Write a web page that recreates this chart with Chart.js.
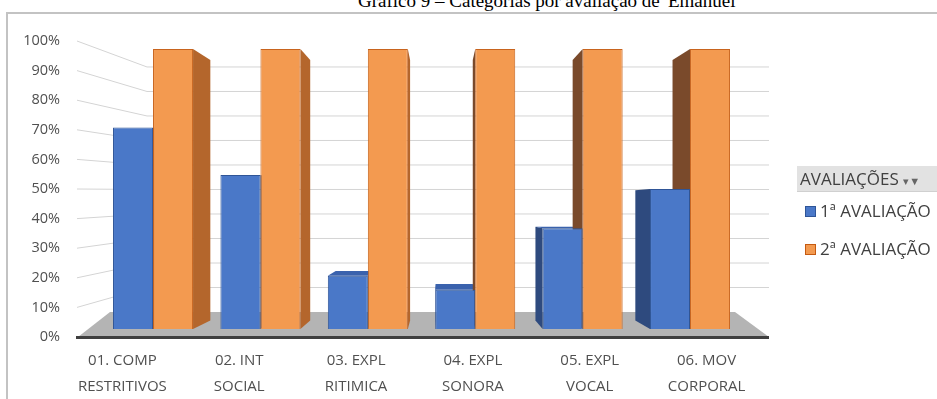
<!DOCTYPE html>
<html lang="pt">
<head>
<meta charset="utf-8">
<title>Gráfico 9 – Categorias por avaliação de 'Emanuel'</title>
<script src="https://cdn.jsdelivr.net/npm/chart.js@4.4.1/dist/chart.umd.min.js"></script>
<style>
  html, body { margin: 0; padding: 0; background: #fff; }
  body { width: 937px; height: 399px; position: relative; overflow: hidden; }
  #titulo {
    position: absolute; left: 358px; top: -10px; white-space: nowrap;
    font: 19px/22px "Liberation Serif", "Times New Roman", serif; color: #000;
  }
  #moldura {
    position: absolute; left: 6px; top: 12px; right: -2px; bottom: -2px;
    border-top: 2px solid #c3c3c3; border-left: 2px solid #c3c3c3;
  }
  #grafico { position: absolute; left: 0; top: 0; }
  #legenda {
    position: absolute; left: 797px; top: 166px; width: 140px;
    font: 17px "Open Sans", sans-serif; color: #404040;
  }
  #legenda .cab {
    background: #e2e2e2; height: 25px; line-height: 25px; padding-left: 3px;
    border-bottom: 1px solid #d0d0d0; white-space: nowrap;
  }
  #legenda .cab span { font-size: 11px; color: #666; }
  #legenda .item { height: 38px; line-height: 38px; padding-left: 8px; white-space: nowrap; }
  #legenda .cx {
    display: inline-block; width: 9px; height: 9px; margin-right: 4px; vertical-align: 0px;
  }
</style>
</head>
<body>
<div id="titulo">Gráfico 9 – Categorias por avaliação de 'Emanuel'</div>
<div id="moldura"></div>
<canvas id="grafico" width="937" height="399"></canvas>
<div id="legenda">
  <div class="cab">AVALIAÇÕES <span>▾▼</span></div>
  <div class="item"><span class="cx" style="background:#4a78c8;border:1px solid #2f5597"></span>1ª AVALIAÇÃO</div>
  <div class="item"><span class="cx" style="background:#f39a50;border:1px solid #c55a11"></span>2ª AVALIAÇÃO</div>
</div>
<script>
// ==========================
// Data
// ==========================

const categories = [
  ["01. COMP", "RESTRITIVOS"],
  ["02. INT", "SOCIAL"],
  ["03. EXPL", "RITIMICA"],
  ["04. EXPL", "SONORA"],
  ["05. EXPL", "VOCAL"],
  ["06. MOV", "CORPORAL"],
];

const seriesNames = ["1ª AVALIAÇÃO", "2ª AVALIAÇÃO"];
const avaliacao1 = [72, 55, 19, 14, 36, 50];
const avaliacao2 = [100, 100, 100, 100, 100, 100];

const yTicks = [0, 10, 20, 30, 40, 50, 60, 70, 80, 90, 100];

// ==========================
// Colours
// ==========================

const azul = { front: "#4a78c8", border: "#2f5597", side: "#2e4a7e", top: "#3a62ad" };
const laranja = { front: "#f39a50", border: "#c8641e", side: "#b4662c", sideLeft: "#7a4a2b", top: "#d9782f" };

const fonte = '"Open Sans", sans-serif';

// ==========================
// Perspective helpers
// ==========================

const VP = { x: 440, y: 206 };
const DEPTH = 0.07;

function toBack(px, py) {
  return { x: px + (VP.x - px) * DEPTH, y: py + (VP.y - py) * DEPTH };
}

function poly(ctx, pts, fill) {
  ctx.beginPath();
  ctx.moveTo(pts[0].x, pts[0].y);
  pts.slice(1).forEach((p) => ctx.lineTo(p.x, p.y));
  ctx.closePath();
  ctx.fillStyle = fill;
  ctx.fill();
}

// grid, floor and bar sides, drawn under the bar fronts
const cena3d = {
  id: "cena3d",
  beforeDatasetsDraw(chart) {
    const ctx = chart.ctx;
    const area = chart.chartArea;
    const yl = chart.scales.yl;
    const yg = chart.scales.yg;
    const wallX = area.left + 83;

    ctx.save();

    // gridlines on the back wall + connectors to the labels
    ctx.strokeStyle = "#d4d4d4";
    ctx.lineWidth = 1;
    yTicks.slice(1).forEach((v) => {
      ctx.beginPath();
      ctx.moveTo(area.left + 13, yl.getPixelForValue(v));
      ctx.lineTo(wallX, yg.getPixelForValue(v));
      ctx.lineTo(area.right + 4, yg.getPixelForValue(v));
      ctx.stroke();
    });

    // floor
    const frontY = yl.getPixelForValue(0);
    const backY = yg.getPixelForValue(0);
    poly(ctx, [
      { x: area.left + 14, y: frontY },
      { x: area.left + 46, y: backY },
      { x: area.right - 30, y: backY },
      { x: area.right + 4, y: frontY },
    ], "#b4b4b4");
    ctx.fillStyle = "#3f3f3f";
    ctx.fillRect(area.left + 12, frontY - 1, area.right - area.left - 8, 3);

    // bar side / top faces
    chart.data.datasets.forEach((ds, di) => {
      const cor = di === 0 ? azul : laranja;
      chart.getDatasetMeta(di).data.forEach((bar) => {
        const L = bar.x - bar.width / 2;
        const R = bar.x + bar.width / 2;
        const T = bar.y;
        const B = bar.base;
        if (bar.x < VP.x) {
          poly(ctx, [{ x: R, y: T }, toBack(R, T), toBack(R, B), { x: R, y: B }], cor.side);
        } else {
          poly(ctx, [{ x: L, y: T }, toBack(L, T), toBack(L, B), { x: L, y: B }], cor.sideLeft || cor.side);
        }
        if (T > VP.y) {
          poly(ctx, [{ x: L, y: T }, { x: R, y: T }, toBack(R, T), toBack(L, T)], cor.top);
        }
      });
    });

    ctx.restore();
  },
};

// ==========================
// Chart
// ==========================

const canvas = document.getElementById("grafico");

new Chart(canvas, {
  type: "bar",

  data: {
    datasets: [
      {
        label: seriesNames[0],
        data: avaliacao1.map((v, i) => ({ x: i, y: v })),
        backgroundColor: azul.front,
        borderColor: azul.border,
        borderWidth: 1,
      },
      {
        label: seriesNames[1],
        data: avaliacao2.map((v, i) => ({ x: i, y: v })),
        backgroundColor: laranja.front,
        borderColor: laranja.border,
        borderWidth: 1,
      },
    ],
  },

  options: {
    responsive: false,
    animation: false,
    barPercentage: 1,
    categoryPercentage: 0.745,

    layout: {
      padding: { top: 41, right: 172, bottom: 0, left: 0 },
    },

    plugins: {
      legend: { display: false },
      tooltip: { enabled: false },
    },

    scales: {
      // bar positions (perspective shrinks the spacing vs the labels)
      x: {
        type: "linear",
        display: false,
        offset: false,
        min: -0.829,
        max: 5.698,
        afterBuildTicks(scale) {
          scale.ticks = categories.map((c, i) => ({ value: i }));
        },
      },
      y: {
        type: "linear",
        display: false,
        min: -2.86,
        max: 102.86,
      },
      // back wall, for the gridlines
      yg: {
        type: "linear",
        display: false,
        min: -10.2,
        max: 110.6,
      },
      // visible axes
      xl: {
        type: "category",
        position: "bottom",
        labels: categories,
        grid: { display: false, drawTicks: false },
        border: { display: false },
        ticks: {
          color: "#505050",
          font: { family: fonte, size: 15, lineHeight: "26px" },
          padding: 11,
          maxRotation: 0,
          autoSkip: false,
        },
        afterFit(scale) {
          scale.height = 62;
        },
      },
      yl: {
        type: "linear",
        position: "left",
        min: 0,
        max: 100,
        grid: { display: false, drawTicks: false },
        border: { display: false },
        afterBuildTicks(scale) {
          scale.ticks = yTicks.map((v) => ({ value: v }));
        },
        ticks: {
          color: "#505050",
          font: { family: fonte, size: 14.5 },
          padding: 4,
          callback: (v) => v + "%",
        },
        afterFit(scale) {
          scale.width = 64;
        },
      },
    },
  },

  plugins: [cena3d],
});
</script>
</body>
</html>
